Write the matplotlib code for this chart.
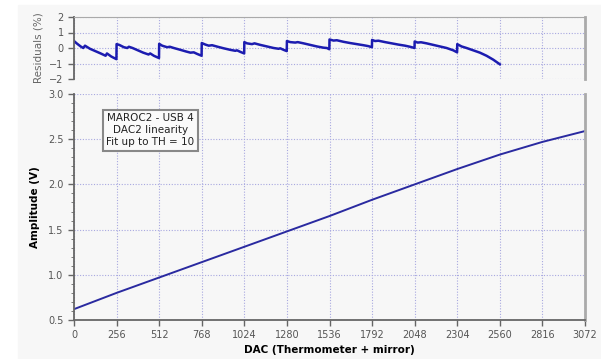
import numpy as np
import matplotlib
matplotlib.use("Agg")
import matplotlib.pyplot as plt
from matplotlib.patches import Rectangle
from matplotlib.ticker import MultipleLocator

# DAC2 transfer curve (amplitude vs DAC code)
dac = [0, 256, 512, 768, 1024, 1280, 1536, 1792, 2048, 2304, 2560, 2816, 3072]
amplitude = [0.62, 0.80, 0.97, 1.14, 1.31, 1.48, 1.65, 1.83, 2.00, 2.17, 2.33, 2.47, 2.59]

# residuals of the linear fit, in %
res_dac = [0, 16, 40, 56, 66, 96, 128, 160, 190, 198, 224, 255,
           256, 272, 300, 320, 330, 352, 384, 416, 448, 458, 480, 511,
           512, 530, 560, 576, 600, 640, 672, 700, 720, 740, 767,
           768, 790, 810, 830, 864, 900, 940, 970, 980, 1000, 1023,
           1024, 1040, 1070, 1085, 1120, 1160, 1200, 1230, 1240, 1260, 1279,
           1280, 1300, 1330, 1345, 1380, 1420, 1460, 1500, 1520, 1535,
           1536, 1560, 1580, 1620, 1660, 1700, 1740, 1770, 1791,
           1792, 1810, 1830, 1870, 1910, 1950, 1990, 2020, 2047,
           2048, 2066, 2086, 2120, 2160, 2200, 2240, 2280, 2303,
           2304, 2330, 2360, 2400, 2440, 2480, 2520, 2560]
res_pct = [0.45, 0.30, 0.10, 0.00, 0.15, -0.05, -0.20, -0.35, -0.50, -0.35, -0.55, -0.72,
           0.25, 0.20, 0.05, 0.00, 0.08, 0.00, -0.15, -0.30, -0.42, -0.35, -0.50, -0.65,
           0.27, 0.15, 0.05, 0.08, 0.00, -0.12, -0.22, -0.30, -0.28, -0.38, -0.50,
           0.32, 0.22, 0.15, 0.18, 0.08, -0.02, -0.12, -0.18, -0.15, -0.25, -0.35,
           0.38, 0.30, 0.25, 0.30, 0.20, 0.10, 0.00, -0.05, -0.02, -0.12, -0.20,
           0.45, 0.38, 0.35, 0.38, 0.30, 0.20, 0.10, 0.02, 0.00, -0.08,
           0.55, 0.48, 0.50, 0.40, 0.32, 0.25, 0.18, 0.12, 0.05,
           0.52, 0.45, 0.47, 0.38, 0.30, 0.22, 0.15, 0.08, 0.00,
           0.42, 0.35, 0.37, 0.30, 0.20, 0.10, 0.00, -0.15, -0.28,
           0.25, 0.10, 0.00, -0.15, -0.30, -0.50, -0.75, -1.05]

xticks = list(range(0, 3073, 256))
bg = "#f7f7f7"
grid_col = "#a8a8e0"
tick_col = "#555555"

fig = plt.figure(figsize=(6.01, 3.59), dpi=100)
fig.patch.set_facecolor("white")
fig.patches.append(Rectangle((18 / 601, 0), 1, (359 - 5) / 359,
                             transform=fig.transFigure, color=bg, zorder=-10))

ax_r = fig.add_axes([74 / 601, 1 - 79 / 359, 511 / 601, 62 / 359])
ax = fig.add_axes([74 / 601, 1 - 320 / 359, 511 / 601, 226 / 359])

for a in (ax_r, ax):
    a.set_facecolor(bg)
    a.set_xlim(0, 3072)
    a.set_xticks(xticks)
    a.grid(True, color=grid_col, linestyle=(0, (1, 1.5)), linewidth=0.8)
    a.set_axisbelow(True)
    a.tick_params(colors="#666666", labelcolor=tick_col, labelsize=7, length=4, width=1)
    a.spines["left"].set_color("#666666")
    a.spines["left"].set_linewidth(1.3)
    a.spines["right"].set_color("#aaaaaa")
    a.spines["right"].set_linewidth(2)

# residual panel
ax_r.plot(res_dac, res_pct, color="#1c1cb0", linewidth=1.8)
ax_r.set_ylim(-2, 2)
ax_r.set_yticks([-2, -1, 0, 1, 2])
ax_r.tick_params(axis="x", bottom=False, labelbottom=False)
ax_r.spines["top"].set_color("#aaaaaa")
ax_r.spines["bottom"].set_visible(False)
ax_r.set_ylabel("Residuals (%)", fontsize=7.5, color="#666666", labelpad=4)

# main panel
ax.plot(dac, amplitude, color="#2a2aa0", linewidth=1.4)
ax.set_ylim(0.5, 3.0)
ax.set_yticks([0.5, 1.0, 1.5, 2.0, 2.5, 3.0])
ax.yaxis.set_minor_locator(MultipleLocator(0.1))
ax.tick_params(axis="y", which="minor", length=2.5, colors="#666666")
ax.spines["top"].set_visible(False)
ax.spines["bottom"].set_color("#666666")
ax.spines["bottom"].set_linewidth(1.3)
ax.set_ylabel("Amplitude (V)", fontsize=7.5, fontweight="bold", labelpad=6)
ax.set_xlabel("DAC (Thermometer + mirror)", fontsize=7.5, fontweight="bold", labelpad=3)

ax.text(460, 2.6, "MAROC2 - USB 4\nDAC2 linearity\nFit up to TH = 10",
        ha="center", va="center", fontsize=7.5,
        color="#222222", linespacing=1.25,
        bbox=dict(boxstyle="square,pad=0.35", facecolor="#fafafa",
                  edgecolor="#888888", linewidth=1.5))

fig.savefig("out.png", dpi=100, facecolor=fig.get_facecolor())
